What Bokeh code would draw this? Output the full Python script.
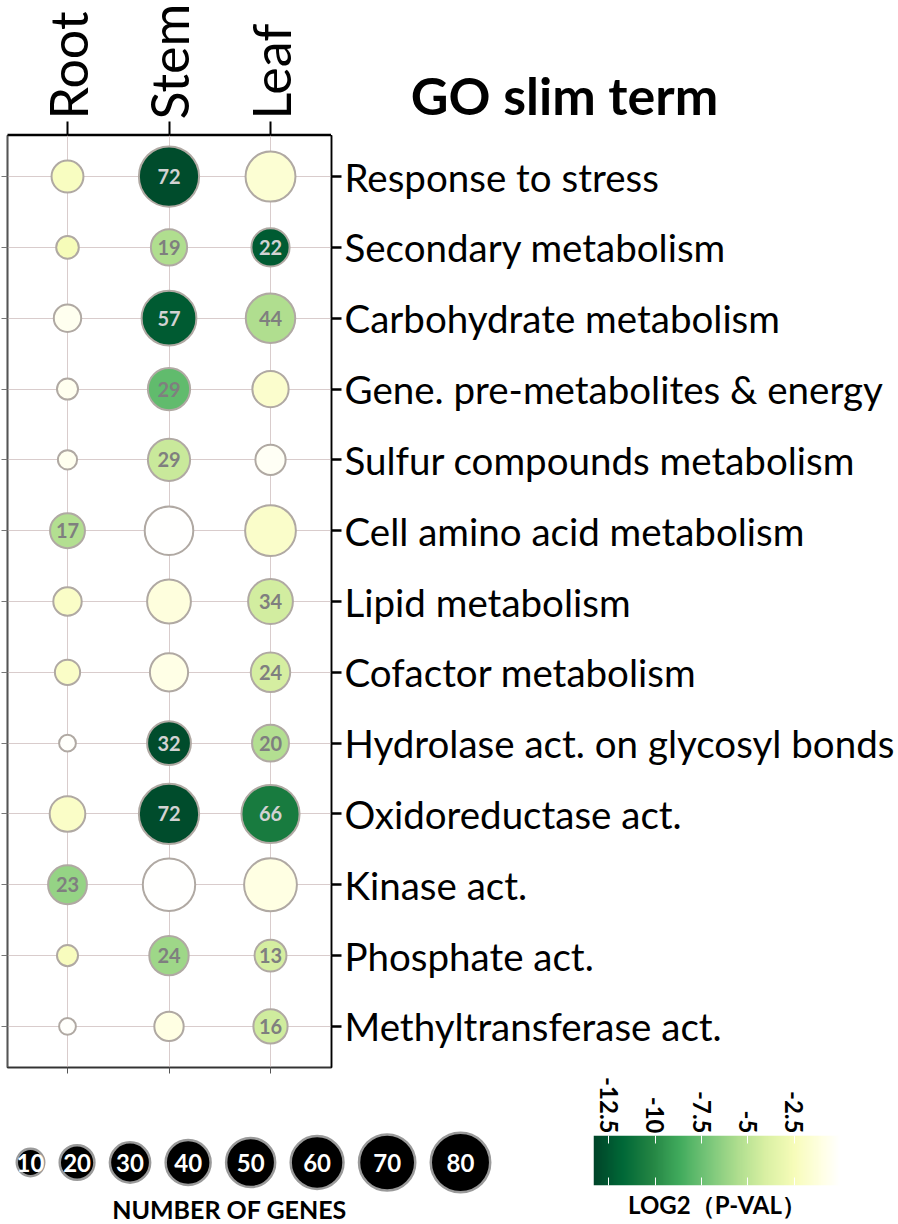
import math
import numpy as np
import pandas as pd
from bokeh.plotting import figure
from bokeh.models import (Range1d, FixedTicker, LinearAxis, Label,
                          LinearColorMapper, ColumnDataSource)
from bokeh.layouts import column, row
from bokeh.embed import file_html
from bokeh.resources import INLINE
from bokeh.core.properties import value
from bokeh.palettes import YlGn9

# ---------------- data ----------------
tissues = ["Root", "Stem", "Leaf"]
terms = ["Response to stress", "Secondary metabolism", "Carbohydrate metabolism",
         "Gene. pre-metabolites & energy", "Sulfur compounds metabolism",
         "Cell amino acid metabolism", "Lipid metabolism", "Cofactor metabolism",
         "Hydrolase act. on glycosyl bonds", "Oxidoreductase act.", "Kinase act.",
         "Phosphate act.", "Methyltransferase act."]
root_genes = [13, 4, 8, 3, 2, 17, 9, 6, 1, 18, 23, 3, 1]
stem_genes = [72, 19, 57, 29, 29, 42, 32, 22, 32, 72, 51, 24, 10]
leaf_genes = [45, 22, 44, 19, 11, 47, 34, 24, 20, 66, 52, 13, 16]
root_logp = [-2.2, -2.5, -0.6, -0.6, -0.6, -5.4, -2.0, -2.0, -0.2, -2.0, -6.3, -2.3, -0.2]
stem_logp = [-13.0, -5.5, -12.3, -7.8, -4.6, -0.1, -1.2, -0.9, -13.0, -13.0, -0.1, -6.0, -1.0]
leaf_logp = [-1.6, -12.3, -5.5, -1.8, -0.4, -1.9, -4.3, -4.2, -5.4, -10.7, -1.0, -4.2, -4.4]
legend_genes = [10, 20, 30, 40, 50, 60, 70, 80]
cbar_ticks = [-12.5, -10, -7.5, -5, -2.5]
cbar_tick_labels = ["-12.5", "-10", "-7.5", "-5", "-2.5"]
cbar_low, cbar_high = -13.33, 0.0
title_text = "GO slim term"
size_title = "NUMBER OF GENES"
color_title = "LOG2（P-VAL）"

FONT = "Lato"


def diam(n, k=1.0):
    return k * (13 + 5.8 * math.sqrt(n))


def interp(pal, pos, n):
    rgb = np.array([[int(c[i:i + 2], 16) for i in (1, 3, 5)] for c in pal], float)
    tt = np.linspace(0, 1, n)
    out = np.stack([np.interp(tt, pos, rgb[:, k]) for k in range(3)], 1)
    return ["#%02x%02x%02x" % tuple(int(round(v)) for v in r) for r in out]


anchors = list(YlGn9) + ["#ffffff"]
anchor_pos = list(np.linspace(0, 0.93, 9)) + [1.0]
palette = interp(anchors, anchor_pos, 256)
mapper = LinearColorMapper(palette=palette, low=cbar_low, high=cbar_high)

genes = [root_genes, stem_genes, leaf_genes]
logps = [root_logp, stem_logp, leaf_logp]
recs = []
for ti, t in enumerate(tissues):
    for ri, term in enumerate(terms):
        n = genes[ti][ri]
        lp = logps[ti][ri]
        recs.append(dict(x=ti, y=ri, genes=n, logp=lp, size=diam(n) - 2,
                         label=str(n) if lp < -3 else "",
                         tcolor="#d2d2d2" if lp < -9 else "#7f7f7f"))
df = pd.DataFrame(recs)
src = ColumnDataSource(df)
lab_src = ColumnDataSource(df[df["label"] != ""])

nrow = len(terms)
FL, FW = 7, 324          # frame left / width of the bubble panel
x_px = 101.5
xr = Range1d(-(67 - FL) / x_px, 2 + (FL + FW - 270) / x_px)

common = dict(output_backend="svg", toolbar_location=None, title=None,
              frame_align=False)

# ---------------- header: column names ----------------
hdr = figure(frame_width=FW, frame_height=1, x_range=xr, y_range=Range1d(0, 1),
             x_axis_location="above", y_axis_location=None,
             min_border_left=FL, min_border_right=0, min_border_top=129,
             min_border_bottom=0, **common)
hdr.grid.visible = False
hdr.outline_line_color = None
top = hdr.xaxis[0]
top.ticker = FixedTicker(ticks=list(range(len(tissues))))
top.major_label_overrides = {i: t for i, t in enumerate(tissues)}
top.major_label_orientation = "vertical"
top.major_label_text_font = FONT
top.major_label_text_font_size = "52px"
top.major_label_text_color = "black"
top.major_label_standoff = 2
top.major_tick_out = 13
top.major_tick_in = 0
top.major_tick_line_width = 2
top.major_tick_line_color = "black"
top.axis_line_color = "black"
top.axis_line_width = 1.5
top.minor_tick_line_color = None

# ---------------- header: title ----------------
TW = 898 - FL - FW
tfig = figure(frame_width=TW, frame_height=130, x_range=Range1d(0, TW),
              y_range=Range1d(0, 130), x_axis_location=None, y_axis_location=None,
              min_border=0, **common)
tfig.grid.visible = False
tfig.outline_line_color = None
tfig.add_layout(Label(x=564 - FL - FW, y=36, text=title_text, text_font=FONT,
                      text_font_style="bold", text_font_size="52px",
                      text_align="center", text_baseline="middle",
                      text_color="black"))

# ---------------- main bubble plot ----------------
p = figure(frame_width=FW, frame_height=932, x_range=xr,
           y_range=Range1d(nrow - 1 + 0.58, -0.58),
           x_axis_location="below", y_axis_location="right",
           min_border_left=FL, min_border_top=0, min_border_bottom=7,
           min_border_right=0, **common)
p.outline_line_color = "black"
p.outline_line_width = 1.5

right = p.yaxis[0]
right.ticker = FixedTicker(ticks=list(range(nrow)))
right.major_label_overrides = {i: t for i, t in enumerate(terms)}
right.major_label_text_font = FONT
right.major_label_text_font_size = "38.5px"
right.major_label_text_color = "black"
right.major_label_standoff = 3
right.major_tick_out = 10
right.major_tick_in = 0
right.major_tick_line_width = 2.5
right.major_tick_line_color = "black"
right.axis_line_color = "black"
right.axis_line_width = 1.5
right.minor_tick_line_color = None

bottom = p.xaxis[0]
bottom.ticker = FixedTicker(ticks=list(range(len(tissues))))
bottom.major_label_overrides = {i: "" for i in range(len(tissues))}
bottom.major_label_text_font_size = "1px"
bottom.major_label_standoff = 0
bottom.major_tick_out = 6
bottom.major_tick_in = 0
bottom.major_tick_line_color = "#555555"
bottom.axis_line_color = "#333333"
bottom.axis_line_width = 1.5
bottom.minor_tick_line_color = None

left = LinearAxis(ticker=FixedTicker(ticks=list(range(nrow))),
                  major_label_overrides={i: "" for i in range(nrow)},
                  major_label_text_font_size="1px", major_label_standoff=0,
                  major_tick_out=6, major_tick_in=0, major_tick_line_color="#777777",
                  axis_line_color="#555555", axis_line_width=1.5,
                  minor_tick_line_color=None)
p.add_layout(left, "left")

p.xgrid.grid_line_color = "#d9cccc"
p.ygrid.grid_line_color = "#d9cccc"
p.xgrid.grid_line_width = 1
p.ygrid.grid_line_width = 1

p.scatter(x="x", y="y", size="size", source=src,
          fill_color={"field": "logp", "transform": mapper},
          line_color="#b0a9a3", line_width=2)
p.text(x="x", y="y", text="label", source=lab_src, text_color="tcolor",
       text_font=value(FONT), text_font_style="bold", text_font_size="20px",
       text_align="center", text_baseline="middle")

# ---------------- size legend ----------------
BH = 150
LW = 570
leg = figure(frame_width=LW, frame_height=BH, x_range=Range1d(0, LW),
             y_range=Range1d(BH, 0), x_axis_location=None, y_axis_location=None,
             min_border=0, **common)
leg.grid.visible = False
leg.outline_line_color = None
ld = [diam(n, 0.955) for n in legend_genes]
lx = []
cur = 30 - ld[0] / 2
for d in ld:
    lx.append(cur + d / 2)
    cur += d + 13
leg_src = ColumnDataSource(dict(x=lx, y=[88] * len(ld), size=[d - 2.5 for d in ld],
                                label=[str(n) for n in legend_genes]))
leg.scatter(x="x", y="y", size="size", source=leg_src, fill_color="black",
            line_color="#9a9a9a", line_width=2.5)
leg.text(x="x", y="y", text="label", source=leg_src, text_color="white",
         text_font=value(FONT), text_font_style="bold", text_font_size="24px",
         text_align="center", text_baseline="middle")
leg.add_layout(Label(x=229, y=134, text=size_title, text_font=FONT,
                     text_font_style="bold", text_font_size="25px",
                     text_align="center", text_baseline="middle", text_color="black"))

# ---------------- colour bar ----------------
CB_TOP = 58
cb = figure(frame_width=247, frame_height=50, x_range=Range1d(cbar_low, cbar_high),
            y_range=Range1d(0, 1), x_axis_location="above", y_axis_location=None,
            min_border_left=23, min_border_right=50, min_border_top=CB_TOP,
            min_border_bottom=BH - CB_TOP - 50, **common)
cb.grid.visible = False
cb.outline_line_color = None
grad = np.linspace(cbar_low, cbar_high, 400).reshape(1, -1)
cb.image(image=[grad], x=cbar_low, y=0, dw=cbar_high - cbar_low, dh=1,
         color_mapper=mapper)
cta = cb.xaxis[0]
cta.ticker = FixedTicker(ticks=cbar_ticks)
cta.major_label_overrides = {t: l for t, l in zip(cbar_ticks, cbar_tick_labels)}
cta.major_label_orientation = -math.pi / 2
cta.major_label_text_font = FONT
cta.major_label_text_font_style = "bold"
cta.major_label_text_font_size = "24px"
cta.major_label_text_color = "black"
cta.major_label_standoff = 2
cta.major_tick_in = 8
cta.major_tick_out = 0
cta.major_tick_line_color = "white"
cta.axis_line_color = None
cta.minor_tick_line_color = None
cbb = LinearAxis(ticker=FixedTicker(ticks=cbar_ticks),
                 major_label_overrides={t: "" for t in cbar_ticks},
                 major_label_text_font_size="1px", major_label_standoff=0,
                 major_tick_in=8, major_tick_out=0, major_tick_line_color="white",
                 axis_line_color=None, minor_tick_line_color=None,
                 axis_label=color_title, axis_label_text_font=FONT,
                 axis_label_text_font_style="bold", axis_label_text_font_size="24px",
                 axis_label_text_color="black", axis_label_standoff=4)
cb.add_layout(cbb, "below")

layout = column(row(hdr, tfig), p, row(leg, cb))
open("out.html", "w").write(file_html(layout, INLINE))
